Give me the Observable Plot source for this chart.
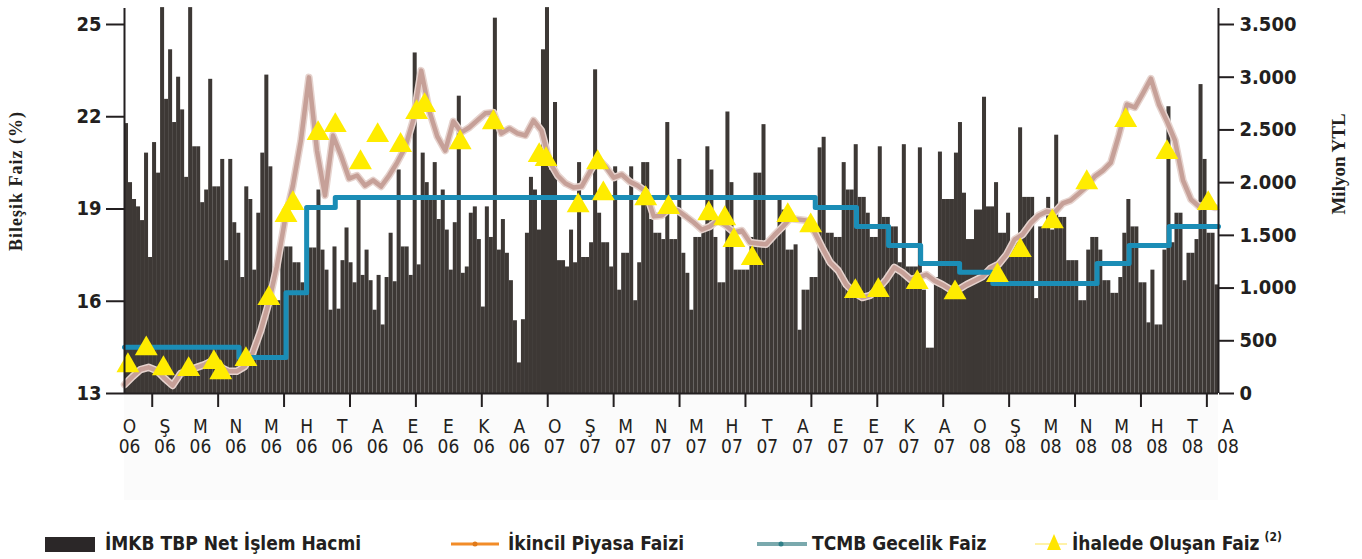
<!DOCTYPE html>
<html>
<head>
<meta charset="utf-8">
<script src="https://cdn.jsdelivr.net/npm/d3@7"></script>
<script src="https://cdn.jsdelivr.net/npm/@observablehq/plot@0.6"></script>
<style>
  body { margin: 0; background: #fff; }
  #wrap { position: relative; width: 1362px; height: 559px;
          font-family: "Liberation Sans Narrow", "DejaVu Sans Condensed", "Roboto Condensed", sans-serif; color: #231f20; }
  #band { position: absolute; left: 124px; top: 395px; width: 1094px; height: 105px; background: #fbfbfb; }
  #chart { position: absolute; left: 0; top: 0; }
  .leg { position: absolute; font-weight: bold; font-size: 19px; line-height: 22px; white-space: nowrap; color: #231f20; }
  .leg .sup { position: relative; top: -9px; font-size: 12px; margin-left: 5px; line-height: 0; }
  .sw { position: absolute; }
  g[aria-label="y-axis tick label"] text { font-weight: bold; }
</style>
</head>
<body>
<div id="wrap">
  <div id="band"></div>
  <div id="chart"></div>
  <div class="sw" style="left:45px;top:537px;width:50px;height:15px;background:#2b2728;"></div>
  <div class="leg" style="left:105px;top:532px;">İMKB TBP Net İşlem Hacmi</div>
  <svg class="sw" style="left:451px;top:536px" width="48" height="16"><line x1="0" y1="8" x2="48" y2="8" stroke="#f28c28" stroke-width="3"/><circle cx="24" cy="8" r="2.5" fill="#e07a1a"/></svg>
  <div class="leg" style="left:508px;top:532px;">İkincil Piyasa Faizi</div>
  <svg class="sw" style="left:757px;top:536px" width="50" height="16"><line x1="0" y1="8" x2="50" y2="8" stroke="#7aa9ad" stroke-width="4"/><circle cx="24" cy="8" r="2.5" fill="#2f7f88"/></svg>
  <div class="leg" style="left:812px;top:532px;">TCMB Gecelik Faiz</div>
  <svg class="sw" style="left:1035px;top:531px" width="32" height="22"><line x1="0" y1="13" x2="32" y2="13" stroke="#fff2a8" stroke-width="2"/><path d="M19,3 L26,19 L12,19 Z" fill="#ffe500"/></svg>
  <div class="leg" style="left:1072px;top:532px;">İhalede Oluşan Faiz<span class="sup">(2)</span></div>
</div>
<script>
// ---------------- DATA ----------------
// İMKB TBP net trading volume (million YTL), one value every 3.5 days from 2006-01-18
const volumeStart = "2006-01-18";
const volumeStepDays = 3.5;
const volume = [
  2560, 2000, 1840, 1770, 1640, 2280, 1290, 2380, 2090, 3660,
  2790, 3260, 2570, 3000, 2690, 2050, 3660, 2340, 2340, 1810,
  1930, 2980, 1960, 1960, 2220, 1260, 2220, 1620, 1520, 1100,
  1960, 1840, 1170, 1710, 2280, 3020, 2150, 880, 880, 1390,
  1390, 1390, 1240, 1240, 1050, 960, 1380, 1380, 1930, 1360,
  1170, 790, 1390, 800, 1260, 1570, 1240, 1050, 1840, 1120,
  1360, 1070, 790, 1120, 650, 1100, 1520, 1060, 2120, 1390,
  1390, 1120, 3230, 1220, 2280, 2000, 1840, 2190, 1650, 1930,
  1550, 1170, 1620, 2820, 1140, 1200, 1710, 1770, 1460, 820,
  1770, 1480, 3560, 1360, 1650, 1330, 1070, 690, 290, 700,
  1520, 2050, 1930, 1550, 3260, 3660, 2120, 2760, 1260, 1260,
  1200, 1550, 1240, 2190, 1290, 1290, 1430, 3070, 1710, 1430,
  1430, 1200, 2150, 980, 1330, 1330, 2150, 880, 1240, 2190,
  2190, 1650, 1520, 1520, 1460, 2570, 1460, 1460, 2220, 1330,
  1140, 790, 1480, 1480, 1550, 2340, 2120, 1480, 1050, 1050,
  2670, 2000, 1170, 1170, 1170, 1170, 1480, 2090, 2090, 2550,
  1460, 1460, 1480, 1840, 1740, 1360, 1360, 1410, 600, 980,
  980, 1100, 1100, 2330, 2430, 1520, 1520, 1480, 1480, 2190,
  1930, 1930, 2360, 1860, 1860, 1710, 1480, 1480, 2340, 1670,
  1670, 1580, 1580, 1240, 2360, 1200, 1200, 1200, 2330, 980,
  430, 430, 1100, 2290, 1840, 1840, 1840, 2280, 2570, 1900,
  1460, 1460, 1740, 1740, 2810, 1770, 1770, 2000, 1520, 1520,
  1710, 1430, 1430, 2520, 1860, 1860, 1860, 900, 1580, 1580,
  1860, 1550, 2450, 1670, 1670, 1260, 1260, 1260, 880, 880,
  1360, 1480, 1480, 1360, 1070, 1070, 950, 950, 1100, 1520,
  1840, 1580, 1580, 1050, 1050, 670, 1170, 650, 650, 1360,
  2720, 1430, 1710, 1710, 1070, 1330, 1330, 1460, 2930, 2220,
  1520, 1520, 1030
];

// İkincil Piyasa Faizi (compound %, weekly from 2006-01-18)
const secondaryStart = "2006-01-18";
const secondaryStepDays = 7;
const secondaryRate = [
  13.29, 13.55, 13.78, 13.85, 13.75, 13.49, 13.26, 13.65, 13.75, 13.85,
  13.94, 14.07, 13.85, 13.72, 13.72, 13.88, 14.33, 15.05, 15.96, 17.13,
  18.63, 19.76, 21.23, 23.28, 20.90, 19.44, 21.39, 20.74, 19.99, 20.09,
  19.76, 19.93, 19.73, 20.09, 20.51, 21.00, 21.88, 23.50, 22.20, 21.36,
  20.90, 21.85, 21.49, 21.65, 21.88, 22.11, 22.14, 21.46, 21.62, 21.46,
  21.39, 21.88, 21.55, 20.54, 20.09, 19.83, 19.70, 19.73, 20.19, 20.64,
  20.38, 20.02, 20.12, 19.89, 19.76, 19.57, 18.76, 18.79, 19.02, 18.95,
  18.76, 18.56, 18.33, 18.43, 18.63, 18.46, 18.24, 18.30, 17.91, 17.88,
  17.85, 18.14, 18.40, 18.69, 18.66, 18.63, 18.27, 17.75, 17.26, 17.00,
  16.54, 16.28, 16.12, 16.19, 16.41, 16.71, 17.10, 16.94, 16.71, 16.77,
  16.87, 16.67, 16.54, 16.38, 16.38, 16.54, 16.67, 16.80, 17.07, 17.20,
  17.52, 18.01, 18.17, 18.53, 18.79, 18.92, 18.89, 19.18, 19.28, 19.50,
  19.73, 20.06, 20.25, 20.51, 21.39, 22.40, 22.30, 22.76, 23.24, 22.40,
  21.85, 21.23, 19.93, 19.31, 19.08, 19.15, 19.05
];

// TCMB Gecelik Faiz (compound %), step changes
const tcmbDates = ["2006-01-18","2006-04-28","2006-06-08","2006-06-26","2006-07-21","2007-09-13","2007-10-19","2007-11-16","2007-12-14","2008-01-17","2008-02-15","2008-05-16","2008-06-13","2008-07-18","2008-08-30"];
const tcmbRate  = [14.50, 14.17, 16.28, 19.05, 19.37, 19.05, 18.43, 17.81, 17.23, 16.94, 16.58, 17.23, 17.81, 18.43, 18.43];

// İhalede Oluşan Faiz (auction rates, compound %)
const auctionDates = ["2006-01-21","2006-02-06","2006-02-21","2006-03-15","2006-04-06","2006-04-12","2006-05-04","2006-05-24","2006-06-08","2006-06-14","2006-07-06","2006-07-21","2006-08-12","2006-08-27","2006-09-16","2006-09-30","2006-10-07","2006-11-07","2006-12-06","2007-01-15","2007-01-21","2007-02-18","2007-03-07","2007-03-12","2007-04-18","2007-05-08","2007-06-12","2007-06-26","2007-07-04","2007-07-20","2007-08-20","2007-09-09","2007-10-18","2007-11-07","2007-12-11","2008-01-13","2008-02-19","2008-03-10","2008-04-07","2008-05-07","2008-06-10","2008-07-16","2008-08-21"];
const auctionRate  = [13.91,14.46,13.81,13.78,14.01,13.68,14.11,16.09,18.79,19.18,21.46,21.72,20.51,21.39,21.07,22.14,22.37,21.16,21.81,20.74,20.61,19.11,20.51,19.50,19.34,19.05,18.85,18.69,17.98,17.39,18.79,18.46,16.32,16.35,16.61,16.28,16.84,17.65,18.59,19.86,21.88,20.84,19.18];

// Axis labels / ticks
const monthLetters = ["O","Ş","M","N","M","H","T","A","E","E","K","A",
                      "O","Ş","M","N","M","H","T","A","E","E","K","A",
                      "O","Ş","M","N","M","H","T","A"];
const yearLabels = ["06","06","06","06","06","06","06","06","06","06","06","06",
                    "07","07","07","07","07","07","07","07","07","07","07","07",
                    "08","08","08","08","08","08","08","08"];
const leftTicks = [13, 16, 19, 22, 25];
const rightTicks = [0, 500, 1000, 1500, 2000, 2500, 3000, 3500];
const xDomain = ["2006-01-18", "2008-08-30"];
const xLabelStart = "2006-01-22T10:00Z", xLabelStepDays = 30.93;
const xTickStart = "2006-02-11T05:00Z", xTickStepDays = 57.54, xTickCount = 17;

// ---------------- BUILD ----------------
const DAY = 864e5;
const rateMin = 13, rateSpan = 12, volSpan = 3500;
const toY = v => rateMin + v * rateSpan / volSpan;
const fmtTR = d3.formatLocale({decimal: ",", thousands: ".", grouping: [3], currency: ["", ""]}).format(",.0f");

const t0 = new Date(volumeStart).getTime();
const bars = volume.map((v, i) => ({
  x1: new Date(t0 + i * volumeStepDays * DAY),
  x2: new Date(t0 + (i + 1) * volumeStepDays * DAY),
  y1: rateMin, y2: toY(v)
}));
const s0 = new Date(secondaryStart).getTime();
const secondary = secondaryRate.map((r, k) => ({date: new Date(s0 + k * secondaryStepDays * DAY), r}));
const tcmb = tcmbDates.map((d, i) => ({date: new Date(d), r: tcmbRate[i]}));
const auction = auctionDates.map((d, i) => ({date: new Date(d), r: auctionRate[i]}));
const l0 = new Date(xLabelStart).getTime();
const xLabels = monthLetters.map((m, i) => ({date: new Date(l0 + i * xLabelStepDays * DAY), m, y: yearLabels[i]}));
const k0 = new Date(xTickStart).getTime();
const xTicks = d3.range(xTickCount).map(i => new Date(k0 + i * xTickStepDays * DAY));

const ink = "#231f20";
const chart = Plot.plot({
  width: 1362, height: 470,
  marginLeft: 124, marginRight: 144, marginTop: 8, marginBottom: 77,
  x: {type: "utc", domain: xDomain.map(d => new Date(d))},
  y: {domain: [13, 25.52]},
  style: {fontFamily: '"Liberation Sans Narrow", "DejaVu Sans Condensed", sans-serif', color: ink, background: "transparent", overflow: "visible"},
  marks: [
    Plot.rect(bars, {x1: "x1", x2: "x2", y1: "y1", y2: "y2", fill: "#3d3835"}),
    Plot.line(secondary, {x: "date", y: "r", stroke: "#e6d3ce", strokeWidth: 7.5, strokeLinejoin: "round"}),
    Plot.line(secondary, {x: "date", y: "r", stroke: "#c6a098", strokeWidth: 4.5, strokeLinejoin: "round"}),
    Plot.line(tcmb, {x: "date", y: "r", curve: "step-after", stroke: "#1b8db6", strokeWidth: 5}),
    Plot.dot(auction, {x: "date", y: "r", symbol: "triangle", r: 8.5, fill: "#ffec00", stroke: "none"}),
    Plot.ruleY([13], {stroke: ink, strokeWidth: 2}),
    Plot.ruleX(xDomain.map(d => new Date(d)), {stroke: ink, strokeWidth: 2}),
    Plot.axisY(leftTicks, {anchor: "left", tickSize: 18, tickPadding: 5, label: null, tickFormat: d => String(d), fontSize: 20, fontWeight: "bold", stroke: ink, strokeWidth: 2}),
    Plot.axisY(rightTicks.map(toY), {anchor: "right", tickSize: 15, tickPadding: 6, label: null, tickFormat: d => fmtTR(Math.round((d - rateMin) * volSpan / rateSpan)), fontSize: 20, fontWeight: "bold", stroke: ink, strokeWidth: 2}),
    Plot.axisX(xTicks, {anchor: "bottom", tickSize: 14, label: null, tickFormat: () => "", stroke: ink, strokeWidth: 2}),
    Plot.text(xLabels, {x: "date", text: "m", frameAnchor: "bottom", lineAnchor: "middle", dy: 33, fontSize: 19, fill: ink}),
    Plot.text(xLabels, {x: "date", text: "y", frameAnchor: "bottom", lineAnchor: "middle", dy: 53, fontSize: 19, fill: ink}),
    Plot.text(["Bileşik Faiz (%)"], {frameAnchor: "left", textAnchor: "middle", lineAnchor: "middle", dx: -108, dy: -20, rotate: -90, fontSize: 18, fontWeight: "bold", fontFamily: '"Liberation Serif", serif', fill: ink}),
    Plot.text(["Milyon YTL"], {frameAnchor: "right", textAnchor: "middle", lineAnchor: "middle", dx: 120, dy: -37, rotate: -90, fontSize: 19, fontWeight: "bold", fontFamily: '"Liberation Serif", serif', fill: ink})
  ]
});
document.getElementById("chart").appendChild(chart);
// slight letter spacing on the left title to match the reference length
chart.querySelectorAll("text").forEach(t => { if (t.textContent === "Bileşik Faiz (%)") t.setAttribute("letter-spacing", "1"); });
</script>
</body>
</html>
